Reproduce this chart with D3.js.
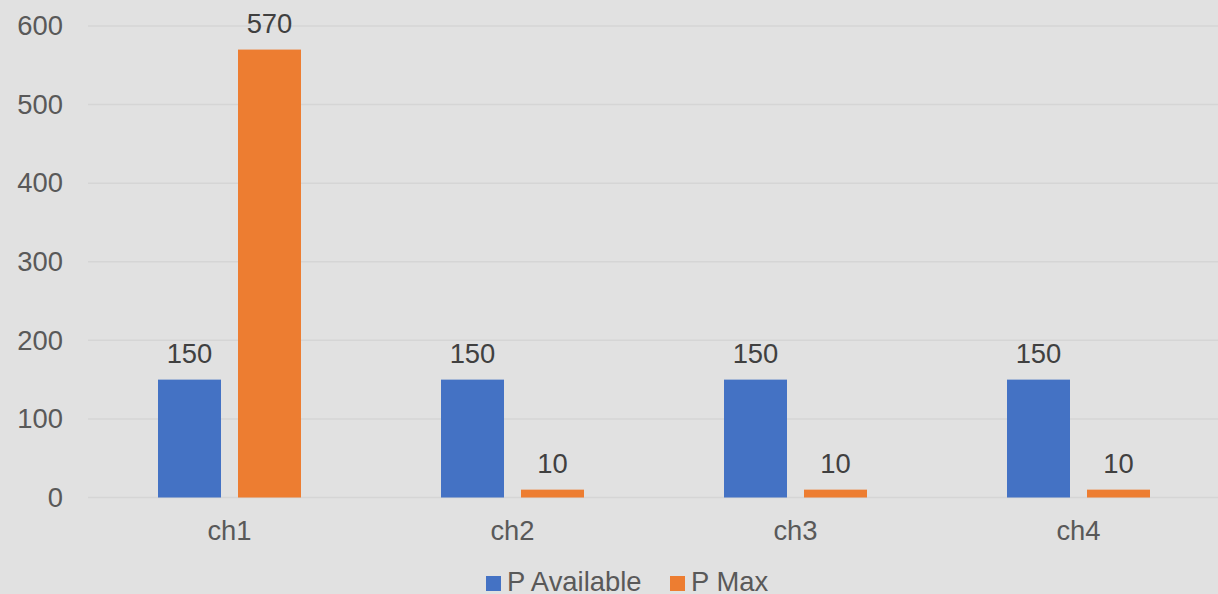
<!DOCTYPE html>
<html>
<head>
<meta charset="utf-8">
<script src="https://cdn.jsdelivr.net/npm/d3@7"></script>
<style>
  body { margin: 0; background: #e1e1e1; }
  svg { display: block; font-family: "Liberation Sans", Arial, sans-serif; }
</style>
</head>
<body>
<svg width="1218" height="594"></svg>
<script>
// data
var categories = ["ch1", "ch2", "ch3", "ch4"];
var seriesNames = ["P Available", "P Max"];
var pAvailable = [150, 150, 150, 150];
var pMax = [570, 10, 10, 10];
var yTicks = [0, 100, 200, 300, 400, 500, 600];

var colors = ["#4472c4", "#ed7d31"];
var values = [pAvailable, pMax];
var fontSize = "27.4px";

var svg = d3.select("svg"),
    plotLeft = 88, plotRight = 1220,
    plotTop = 26, plotBottom = 497.5;

svg.append("rect").attr("width", 1218).attr("height", 594).attr("fill", "#e1e1e1");

var x = d3.scaleBand().domain(categories).range([plotLeft, plotRight]);
// bars 63px wide with a 17px gap, starting 70px into each band
var x1 = d3.scaleBand().domain(seriesNames).range([70, 213]).paddingInner(17 / 80);
var y = d3.scaleLinear().domain([0, 600]).range([plotBottom, plotTop]);

// gridlines
svg.append("g").selectAll("line")
    .data(yTicks)
    .enter().append("line")
    .attr("x1", plotLeft).attr("x2", 1218)
    .attr("y1", function(d) { return y(d); })
    .attr("y2", function(d) { return y(d); })
    .attr("stroke", "#d5d5d5")
    .attr("stroke-width", 1.5);

// y axis labels
var yAxis = d3.axisLeft(y).tickValues(yTicks).tickSize(0).tickPadding(0);
var ga = svg.append("g").attr("transform", "translate(63,0)").call(yAxis);
ga.select(".domain").remove();
ga.selectAll("text").attr("fill", "#595959").style("font-size", fontSize)
    .style("font-family", "'Liberation Sans', Arial, sans-serif");

// bars
var groups = svg.append("g").selectAll("g")
    .data(categories)
    .enter().append("g")
    .attr("transform", function(d) { return "translate(" + x(d) + ",0)"; });

seriesNames.forEach(function(s, si) {
  groups.append("rect")
      .attr("x", x1(s))
      .attr("width", x1.bandwidth())
      .attr("y", function(d, i) { return y(values[si][i]); })
      .attr("height", function(d, i) { return y(0) - y(values[si][i]); })
      .attr("fill", colors[si]);

  groups.append("text")
      .attr("x", x1(s) + x1.bandwidth() / 2)
      .attr("y", function(d, i) { return y(values[si][i]) - 17; })
      .attr("text-anchor", "middle")
      .attr("fill", "#404040")
      .style("font-size", fontSize)
      .text(function(d, i) { return values[si][i]; });
});

// category labels
svg.append("g").selectAll("text")
    .data(categories)
    .enter().append("text")
    .attr("x", function(d) { return x(d) + x.bandwidth() / 2; })
    .attr("y", 540)
    .attr("text-anchor", "middle")
    .attr("fill", "#595959")
    .style("font-size", fontSize)
    .text(function(d) { return d; });

// legend
var legendX = [486, 670];
var legend = svg.append("g").selectAll("g")
    .data(seriesNames)
    .enter().append("g")
    .attr("transform", function(d, i) { return "translate(" + legendX[i] + ",576)"; });
legend.append("rect").attr("width", 15).attr("height", 15)
    .attr("fill", function(d, i) { return colors[i]; });
legend.append("text").attr("x", 21).attr("y", 15)
    .attr("fill", "#595959")
    .style("font-size", fontSize)
    .text(function(d) { return d; });
</script>
</body>
</html>
